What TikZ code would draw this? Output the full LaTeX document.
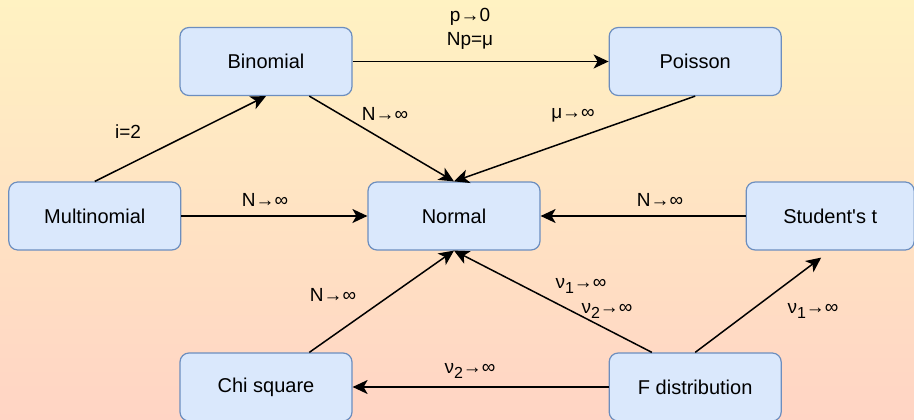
\documentclass[tikz,border=0pt]{standalone}
\usepackage{fontspec}
\setmainfont{Liberation Sans}
\usetikzlibrary{arrows.meta,positioning,calc}
\definecolor{BoxFill}{HTML}{DAE8FC}
\definecolor{BoxLine}{HTML}{6C8EBF}
\definecolor{BgTop}{HTML}{FFF2C2}
\definecolor{BgBottom}{HTML}{FFD4C4}
\newcommand{\lowidx}[1]{\raisebox{-5pt}{\fontsize{16}{16}\selectfont #1}}

\begin{document}
\begin{tikzpicture}[x=1pt, y=-1pt,
  box/.style={rounded corners=9pt, fill=BoxFill, draw=BoxLine, line width=1.2pt,
              minimum width=172pt, minimum height=68pt, inner sep=0pt,
              font=\fontsize{20}{24}\selectfont},
  lbl/.style={font=\fontsize{19}{24}\selectfont, inner sep=0pt, align=center},
  arr/.style={-{Stealth[length=15pt,width=14pt,inset=4pt]}, line width=1.5pt}]
  \useasboundingbox (0,0) rectangle (914,420);
  \shade[top color=BgTop, bottom color=BgBottom] (0,0) rectangle (914,420);
  \node[box] (nor) at (454,216) {Normal};
  \node[box, left=186pt of nor] (mul) {Multinomial};
  \node[box, right=205pt of nor, minimum width=168pt] (stu) {Student\textquotesingle s t};
  \node[box] (bin) at (266,61.5) {Binomial};
  \node[box, right=256pt of bin] (poi) {Poisson};
  \node[box] (chi) at (266,387) {Chi square};
  \node[box, right=256pt of chi] (fdi) {F distribution};
  \coordinate (tend) at ($(stu.south)+(-9,7)$);
  \draw[arr] (mul.north) -- (bin.south);
  \draw[arr] ($(bin.south)!0.5!(bin.south east)$) -- (nor.north);
  \draw[arr] (bin.east) -- (poi.west);
  \draw[arr] (poi.south) -- (nor.north);
  \draw[arr] (mul.east) -- (nor.west);
  \draw[arr] (stu.west) -- (nor.east);
  \draw[arr] ($(chi.north)!0.5!(chi.north east)$) -- (nor.south);
  \draw[arr] ($(fdi.north west)!0.5!(fdi.north)$) -- (nor.south);
  \draw[arr] (fdi.north) -- (tend);
  \draw[arr] (fdi.west) -- (chi.east);
  \node[lbl] (l1) at (128,132) {i=2};
  \node[lbl] (l2) at (385,114) {N→∞};
  \node[lbl] (l3) at (470,29) {p→0\\Np=μ};
  \node[lbl] (l4) at (573,115) {μ→∞};
  \node[lbl] (l5) at (265,200) {N→∞};
  \node[lbl] (l6) at (660,200) {N→∞};
  \node[lbl] (l7) at (333,295) {N→∞};
  \node[lbl, align=left, font=\fontsize{19}{25}\selectfont] (l8) at (594,298) {ν\lowidx{1}→∞\\\hspace*{26pt}ν\lowidx{2}→∞};
  \node[lbl] (l9) at (813,311) {ν\lowidx{1}→∞};
  \node[lbl] (l10) at (470,371) {ν\lowidx{2}→∞};
\end{tikzpicture}
\end{document}
